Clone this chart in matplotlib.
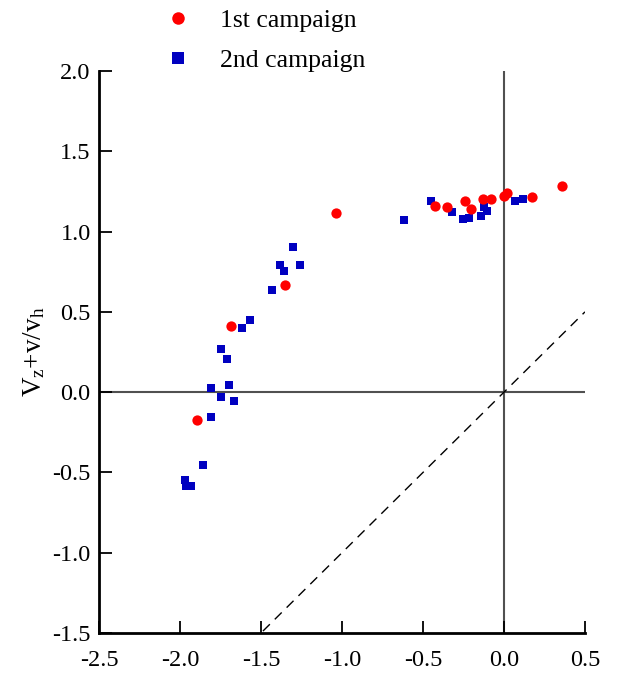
import matplotlib
matplotlib.use("Agg")
import matplotlib.pyplot as plt
from matplotlib.lines import Line2D

plt.rcParams['font.family'] = ['Liberation Serif', 'DejaVu Serif']
plt.rcParams['mathtext.fontset'] = 'custom'
plt.rcParams['mathtext.rm'] = 'Liberation Serif'
plt.rcParams['mathtext.it'] = 'Liberation Serif'

# 1st campaign (red circles)
x1 = [0.356, 0.171, 0.019, 0.000, -0.080, -0.128, -0.202, -0.241, -0.354, -0.428,
      -1.037, -1.350, -1.683, -1.893]
y1 = [1.285, 1.216, 1.241, 1.222, 1.200, 1.200, 1.138, 1.191, 1.150, 1.160,
      1.116, 0.668, 0.415, -0.176]

# 2nd campaign (blue squares)
x2 = [-0.619, -0.453, -0.323, -0.255, -0.218, -0.144, -0.123, -0.105, 0.066, 0.115,
      -1.305, -1.385, -1.261, -1.360, -1.434, -1.570, -1.619, -1.749, -1.712, -1.700,
      -1.811, -1.749, -1.669, -1.811, -1.860, -1.971, -1.963, -1.934]
y2 = [1.073, 1.191, 1.123, 1.077, 1.085, 1.098, 1.154, 1.129, 1.189, 1.202,
      0.903, 0.793, 0.793, 0.755, 0.637, 0.450, 0.400, 0.270, 0.207, 0.045,
      0.027, -0.029, -0.054, -0.154, -0.453, -0.546, -0.585, -0.585]

labels = ["1st campaign", "2nd campaign"]
xticks = [-2.5, -2.0, -1.5, -1.0, -0.5, 0.0, 0.5]
yticks = [-1.5, -1.0, -0.5, 0.0, 0.5, 1.0, 1.5, 2.0]
xlim = (-2.5, 0.5)
ylim = (-1.5, 2.0)

fig = plt.figure(figsize=(6.17, 6.77), dpi=100)
ax = fig.add_axes([99/617, 44/677, 486/617, 562/677])

ax.axhline(0, color='#505050', lw=1.5, zorder=1)
ax.axvline(0, color='#505050', lw=1.5, zorder=1)
ax.plot([-2.5, 0.5], [-2.5, 0.5], color='black', lw=1.0, ls=(0, (7, 5)), zorder=1)

ax.plot(x1, y1, 'o', color='#ff0000', ms=7.4, mew=0, zorder=3, label=labels[0])
ax.plot(x2, y2, 's', color='#0000c0', ms=6.0, mew=0, zorder=2, label=labels[1])

ax.set_xlim(*xlim)
ax.set_ylim(*ylim)
ax.set_xticks(xticks)
ax.set_yticks(yticks)
ax.set_xticklabels([f"{v:.1f}" for v in xticks])
ax.set_yticklabels([f"{v:.1f}" for v in yticks])
for s in ['top', 'right']:
    ax.spines[s].set_visible(False)
for s in ['left', 'bottom']:
    ax.spines[s].set_linewidth(2.0)
ax.tick_params(direction='in', length=9, width=1.3, labelsize=17.5, colors='black')
ax.tick_params(axis='x', pad=12)
ax.tick_params(axis='y', pad=6)

ax.set_ylabel(r'V$_\mathregular{z}$+v/v$_\mathregular{h}$', fontsize=19.5, labelpad=4)

handles = [Line2D([], [], marker='o', ls='none', color='#ff0000', ms=9.0, mew=0),
           Line2D([], [], marker='s', ls='none', color='#0000c0', ms=8.0, mew=0)]
fig.legend(handles, labels, loc='upper left', bbox_to_anchor=(165/617, 1 - 9/677),
           frameon=False, fontsize=18.5, handlelength=1.0, handletextpad=1.14,
           borderpad=0, borderaxespad=0, labelspacing=0.67)

fig.savefig('out.png', dpi=100)
